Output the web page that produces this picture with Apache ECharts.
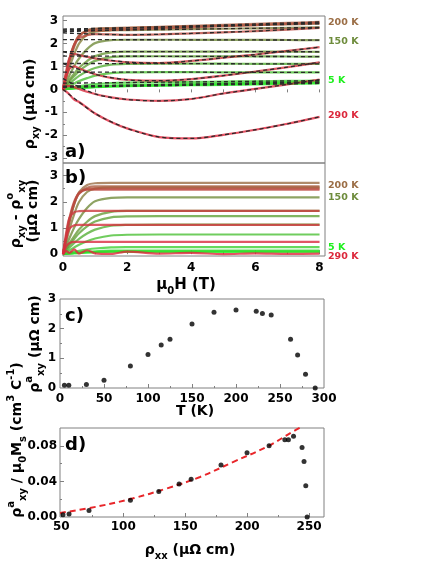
<!DOCTYPE html>
<html>
<head>
<meta charset="utf-8">
<script src="https://cdn.jsdelivr.net/npm/echarts@6/dist/echarts.min.js"></script>
<style>
    html, body { margin: 0; padding: 0; background: #fff; }
    #chart { width: 436px; height: 564px; }
</style>
</head>
<body>
<div id="chart"></div>
<script>
// temperatures (K) of the field sweeps, and the colour of each sweep
var temps = [5, 10, 30, 50, 80, 100, 115, 125, 150, 175, 200, 223, 230, 240, 262, 270, 279, 290];
var tempColors = ['#1ef01e', '#2ae82a', '#36dc30', '#40d034', '#4cc036', '#58b038', '#62a43a', '#6a9a3a', '#728c3c',
    '#86803e', '#9b6e46', '#ab5e42', '#b45240', '#bc4840', '#cc3a3e', '#d4323e', '#da2c3e', '#e0263c'];

// field grid (T) for panels a and b
var fieldH = [0, 0.1, 0.2, 0.35, 0.5, 0.75, 1, 1.5, 2, 3, 4, 5, 6, 7, 8];

// panel a: rho_xy (uOhm cm), one row per temperature
var rhoXY = [
    [0, 0.012, 0.024, 0.042, 0.058, 0.081, 0.10, 0.125, 0.139, 0.16, 0.18, 0.20, 0.22, 0.24, 0.26],
    [0, 0.015, 0.029, 0.049, 0.065, 0.089, 0.108, 0.134, 0.15, 0.175, 0.20, 0.225, 0.25, 0.275, 0.30],
    [0, 0.016, 0.033, 0.057, 0.079, 0.11, 0.136, 0.169, 0.187, 0.212, 0.236, 0.26, 0.284, 0.308, 0.332],
    [0, 0.028, 0.057, 0.10, 0.137, 0.189, 0.23, 0.278, 0.295, 0.312, 0.326, 0.34, 0.354, 0.368, 0.382],
    [0, 0.075, 0.15, 0.26, 0.36, 0.49, 0.60, 0.71, 0.74, 0.75, 0.75, 0.745, 0.745, 0.74, 0.74],
    [0, 0.124, 0.249, 0.43, 0.588, 0.79, 0.935, 1.08, 1.115, 1.125, 1.12, 1.12, 1.115, 1.11, 1.11],
    [0, 0.174, 0.348, 0.58, 0.797, 1.057, 1.245, 1.403, 1.438, 1.445, 1.442, 1.44, 1.437, 1.434, 1.43],
    [0, 0.198, 0.413, 0.693, 0.94, 1.237, 1.45, 1.615, 1.647, 1.648, 1.646, 1.645, 1.644, 1.642, 1.64],
    [0, 0.304, 0.608, 1.02, 1.345, 1.756, 2.016, 2.145, 2.165, 2.165, 2.162, 2.16, 2.157, 2.153, 2.15],
    [0, 0.461, 0.948, 1.537, 1.999, 2.386, 2.518, 2.578, 2.588, 2.607, 2.626, 2.645, 2.664, 2.683, 2.702],
    [0, 0.582, 1.19, 1.851, 2.303, 2.573, 2.646, 2.674, 2.688, 2.717, 2.746, 2.775, 2.804, 2.833, 2.862],
    [0, 0.626, 1.252, 1.932, 2.353, 2.571, 2.634, 2.656, 2.678, 2.722, 2.766, 2.81, 2.854, 2.898, 2.942],
    [0, 0.658, 1.315, 1.975, 2.334, 2.522, 2.559, 2.584, 2.608, 2.657, 2.706, 2.755, 2.804, 2.853, 2.902],
    [0, 0.68, 1.35, 1.95, 2.23, 2.36, 2.41, 2.40, 2.38, 2.40, 2.44, 2.49, 2.54, 2.61, 2.68],
    [0, 0.80, 1.35, 1.55, 1.50, 1.42, 1.35, 1.25, 1.18, 1.15, 1.24, 1.38, 1.52, 1.68, 1.84],
    [0, 0.55, 0.90, 1.00, 0.92, 0.78, 0.66, 0.50, 0.42, 0.38, 0.45, 0.60, 0.78, 0.97, 1.18],
    [0, 0.12, 0.15, 0.10, 0.02, -0.10, -0.20, -0.35, -0.44, -0.50, -0.42, -0.18, 0.02, 0.22, 0.43],
    [0, -0.10, -0.22, -0.45, -0.55, -0.80, -1.05, -1.42, -1.70, -2.08, -2.14, -1.98, -1.76, -1.50, -1.20]
];

// panel a: black dashed fits, on their own field grid
var fitH = [0, 1, 2, 3, 4, 5, 6, 7, 8];
var fitXY = [
    [0.10, 0.12, 0.14, 0.16, 0.18, 0.20, 0.22, 0.24, 0.26],
    [0.10, 0.125, 0.15, 0.175, 0.20, 0.225, 0.25, 0.275, 0.30],
    [0.14, 0.164, 0.188, 0.212, 0.236, 0.26, 0.284, 0.308, 0.332],
    [0.27, 0.284, 0.298, 0.312, 0.326, 0.34, 0.354, 0.368, 0.382],
    [0.75, 0.75, 0.75, 0.75, 0.75, 0.745, 0.745, 0.74, 0.74],
    [1.13, 1.128, 1.125, 1.123, 1.12, 1.118, 1.115, 1.113, 1.11],
    [1.45, 1.448, 1.445, 1.443, 1.44, 1.438, 1.435, 1.433, 1.43],
    [1.65, 1.649, 1.648, 1.646, 1.645, 1.644, 1.643, 1.641, 1.64],
    [2.17, 2.168, 2.165, 2.163, 2.16, 2.158, 2.155, 2.153, 2.15],
    [2.55, 2.569, 2.588, 2.607, 2.626, 2.645, 2.664, 2.683, 2.702],
    [2.63, 2.659, 2.688, 2.717, 2.746, 2.775, 2.804, 2.833, 2.862],
    [2.59, 2.634, 2.678, 2.722, 2.766, 2.81, 2.854, 2.898, 2.942],
    [2.51, 2.559, 2.608, 2.657, 2.706, 2.755, 2.804, 2.853, 2.902],
    [2.46, 2.41, 2.38, 2.40, 2.44, 2.49, 2.54, 2.61, 2.68],
    [1.64, 1.36, 1.19, 1.15, 1.24, 1.38, 1.52, 1.68, 1.84],
    [1.12, 0.66, 0.42, 0.38, 0.45, 0.60, 0.78, 0.97, 1.18],
    [0.47, -0.20, -0.44, -0.50, -0.42, -0.18, 0.02, 0.22, 0.43],
    [0.00, -1.05, -1.70, -2.08, -2.14, -1.98, -1.76, -1.50, -1.20]
];

// panel b: rho_xy - rho0_xy (uOhm cm)
var rhoAH = [
    [0, 0.01, 0.02, 0.035, 0.048, 0.066, 0.08, 0.095, 0.099, 0.1, 0.1, 0.1, 0.1, 0.1, 0.1],
    [0, 0.012, 0.024, 0.04, 0.052, 0.07, 0.083, 0.097, 0.1, 0.1, 0.1, 0.1, 0.1, 0.1, 0.1],
    [0, 0.014, 0.028, 0.049, 0.067, 0.092, 0.112, 0.133, 0.139, 0.14, 0.14, 0.14, 0.14, 0.14, 0.14],
    [0, 0.027, 0.054, 0.095, 0.13, 0.178, 0.216, 0.257, 0.267, 0.27, 0.27, 0.27, 0.27, 0.27, 0.27],
    [0, 0.075, 0.15, 0.26, 0.36, 0.495, 0.6, 0.712, 0.742, 0.75, 0.75, 0.75, 0.75, 0.75, 0.75],
    [0, 0.124, 0.249, 0.43, 0.588, 0.791, 0.938, 1.085, 1.119, 1.13, 1.13, 1.13, 1.13, 1.13, 1.13],
    [0, 0.174, 0.348, 0.58, 0.798, 1.059, 1.247, 1.407, 1.443, 1.45, 1.45, 1.45, 1.45, 1.45, 1.45],
    [0, 0.198, 0.413, 0.693, 0.94, 1.238, 1.452, 1.617, 1.65, 1.65, 1.65, 1.65, 1.65, 1.65, 1.65],
    [0, 0.304, 0.608, 1.02, 1.345, 1.758, 2.018, 2.148, 2.17, 2.17, 2.17, 2.17, 2.17, 2.17, 2.17],
    [0, 0.459, 0.944, 1.53, 1.989, 2.372, 2.499, 2.55, 2.55, 2.55, 2.55, 2.55, 2.55, 2.55, 2.55],
    [0, 0.598, 1.224, 1.904, 2.366, 2.638, 2.706, 2.72, 2.72, 2.72, 2.72, 2.72, 2.72, 2.72, 2.72],
    [0, 0.622, 1.243, 1.917, 2.331, 2.538, 2.59, 2.59, 2.59, 2.59, 2.59, 2.59, 2.59, 2.59, 2.59],
    [0, 0.653, 1.305, 1.958, 2.309, 2.485, 2.51, 2.51, 2.51, 2.51, 2.51, 2.51, 2.51, 2.51, 2.51],
    [0, 0.689, 1.378, 2.017, 2.337, 2.46, 2.46, 2.46, 2.46, 2.46, 2.46, 2.46, 2.46, 2.46, 2.46],
    [0, 0.83, 1.38, 1.60, 1.64, 1.65, 1.65, 1.65, 1.65, 1.65, 1.65, 1.65, 1.65, 1.65, 1.65],
    [0, 0.60, 0.97, 1.10, 1.12, 1.12, 1.12, 1.12, 1.12, 1.12, 1.12, 1.12, 1.12, 1.12, 1.12],
    [0, 0.30, 0.42, 0.47, 0.47, 0.47, 0.47, 0.47, 0.47, 0.47, 0.47, 0.47, 0.47, 0.47, 0.47],
    [0, 0.12, 0.05, 0.18, 0.02, 0.15, 0.03, 0.01, 0.10, 0.02, 0.05, 0.00, 0.03, 0.01, 0.02]
];

// panel c: anomalous Hall resistivity vs T
var cTemp = [5, 10, 30, 50, 80, 100, 115, 125, 150, 175, 200, 223, 230, 240, 262, 270, 279, 290];
var cRhoA = [0.09, 0.09, 0.12, 0.26, 0.74, 1.13, 1.45, 1.64, 2.16, 2.55, 2.63, 2.59, 2.51, 2.46, 1.64, 1.11, 0.46, 0.0];

// panel d: rho_a / mu0 Ms vs rho_xx
var dRhoXX = [51.4, 56.3, 72.4, 105.8, 128.7, 145.1, 154.8, 178.9, 199.9, 217.7, 230.4, 233.3, 237.4, 244.3, 245.9, 247.3, 248.4];
var dRatio = [0.0026, 0.0034, 0.0072, 0.0189, 0.0287, 0.037, 0.0423, 0.0585, 0.0721, 0.080, 0.0868, 0.0868, 0.0906, 0.0781, 0.0623, 0.0351, 0.0];
var dFitX = [49, 80, 108, 135, 162, 189, 216, 237, 243];
var dFitY = [0.0045, 0.012, 0.021, 0.032, 0.045, 0.062, 0.079, 0.096, 0.1005];

var F = 'DejaVu Sans';
var frame = '#808080';

function pairs(xs, ys) {
    return xs.map(function (x, i) { return [x, ys[i]]; });
}

function labelStyle(margin) {
    return {fontFamily: F, fontWeight: 'bold', fontSize: 12, color: '#000', margin: margin};
}

// main axis: labels + major ticks at given values
function mainAxis(grid, pos, min, max, labels, ticks, len, inside, margin, fmt) {
    var lab = labelStyle(margin);
    if (labels) { lab.customValues = labels; } else { lab.show = false; }
    if (fmt) { lab.formatter = fmt; }
    return {
        type: 'value', gridIndex: grid, position: pos, min: min, max: max,
        axisLine: {show: false}, splitLine: {show: false},
        axisTick: {show: true, inside: inside, length: len, customValues: ticks, lineStyle: {color: frame}},
        axisLabel: lab
    };
}

// extra axis carrying the short minor ticks
function minorAxis(grid, pos, min, max, ticks) {
    return {
        type: 'value', gridIndex: grid, position: pos, min: min, max: max,
        axisLine: {show: false}, splitLine: {show: false}, axisLabel: {show: false},
        axisTick: {show: true, inside: true, length: 2, customValues: ticks, lineStyle: {color: frame}}
    };
}

var xAxes = [
    mainAxis(0, 'bottom', 0, 8.17, null, [1, 2, 3, 4, 5, 6, 7, 8], 3, false, 0),
    mainAxis(1, 'bottom', 0, 8.17, [0, 2, 4, 6, 8], [2, 4, 6, 8], 4, true, 6),
    mainAxis(2, 'bottom', 0, 300, [0, 50, 100, 150, 200, 250, 300], [50, 100, 150, 200, 250], 4, true, 5),
    mainAxis(3, 'bottom', 49, 262, [50, 100, 150, 200, 250], [50, 100, 150, 200, 250], 4, true, 4),
    minorAxis(1, 'bottom', 0, 8.17, [1, 3, 5, 7]),
    minorAxis(2, 'bottom', 0, 300, [25, 75, 125, 175, 225, 275]),
    minorAxis(3, 'bottom', 49, 262, [75, 125, 175, 225])
];
var yAxes = [
    mainAxis(0, 'left', -3.21, 3.2, [-3, -2, -1, 0, 1, 2, 3], [-3, -2, -1, 0, 1, 2, 3], 4, true, 5),
    mainAxis(1, 'left', -0.07, 3.48, [0, 1, 2, 3], [0, 1, 2, 3], 4, true, 5),
    mainAxis(2, 'left', 0, 3, [0, 1, 2, 3], [1, 2], 4, true, 4),
    mainAxis(3, 'left', 0, 0.1, [0, 0.04, 0.08], [0.04, 0.08], 4, true, 3, function (v) { return v.toFixed(2); }),
    minorAxis(0, 'left', -3.21, 3.2, [-2.5, -1.5, -0.5, 0.5, 1.5, 2.5]),
    minorAxis(1, 'left', -0.07, 3.48, [0.5, 1.5, 2.5]),
    minorAxis(2, 'left', 0, 3, [0.5, 1.5, 2.5]),
    minorAxis(3, 'left', 0, 0.1, [0.02, 0.06])
];

var series = [];
temps.forEach(function (t, i) {
    series.push({
        type: 'line', xAxisIndex: 0, yAxisIndex: 0, data: pairs(fieldH, rhoXY[i]),
        showSymbol: false, smooth: 0.3, silent: true,
        lineStyle: {color: tempColors[i], width: 2.2, opacity: 0.8}
    });
});
temps.forEach(function (t, i) {
    series.push({
        type: 'line', xAxisIndex: 0, yAxisIndex: 0, data: pairs(fitH, fitXY[i]),
        showSymbol: false, smooth: 0.3, silent: true, z: 3,
        lineStyle: {color: '#2a2a2a', width: 1.3, type: [4, 3]}
    });
});
temps.forEach(function (t, i) {
    series.push({
        type: 'line', xAxisIndex: 1, yAxisIndex: 1, data: pairs(fieldH, rhoAH[i]),
        showSymbol: false, smooth: 0.3, silent: true,
        lineStyle: {color: tempColors[i], width: 2.2, opacity: 0.8}
    });
});
series.push({
    type: 'scatter', xAxisIndex: 2, yAxisIndex: 2, data: pairs(cTemp, cRhoA),
    symbolSize: 5, itemStyle: {color: '#000'}, silent: true
});
series.push({
    type: 'line', xAxisIndex: 3, yAxisIndex: 3, data: pairs(dFitX, dFitY),
    showSymbol: false, smooth: 0.4, silent: true,
    lineStyle: {color: '#e8262a', width: 2, type: [6, 4]}
});
series.push({
    type: 'scatter', xAxisIndex: 3, yAxisIndex: 3, data: pairs(dRhoXX, dRatio),
    symbolSize: 5, itemStyle: {color: '#000'}, silent: true, z: 4
});

function richStyles(size) {
    var s = Math.round(size * 0.68);
    return {
        sub: {fontSize: s, fontWeight: 'bold', fontFamily: F, fill: '#000', verticalAlign: 'bottom', lineHeight: s + 2},
        sup: {fontSize: s, fontWeight: 'bold', fontFamily: F, fill: '#000', verticalAlign: 'top', lineHeight: s + 2}
    };
}

function txt(text, x, y, size, rot, align, color) {
    return {
        type: 'text', x: x, y: y, rotation: rot || 0, silent: true, z: 50,
        style: {
            text: text, fontSize: size, fontWeight: 'bold', fontFamily: F, fill: color || '#000',
            align: align || 'center', verticalAlign: 'middle', lineHeight: size + 8, rich: richStyles(size)
        }
    };
}

var R = Math.PI / 2;
var graphics = [
    txt('ρ{sub|xy} (μΩ cm)', 30, 104, 14, R),
    txt('ρ{sub|xy} - ρ{sup|o}{sub|xy}', 16, 214, 14, R),
    txt('(μΩ cm)', 33, 211, 14, R),
    txt('ρ{sup|a}{sub|xy} (μΩ cm)', 35, 344, 14, R),
    txt('ρ{sup|a}{sub|xy} / μ{sub|0}M{sub|s} (cm{sup|3} C{sup|-1})', 17, 440, 14, R),
    txt('μ{sub|0}H (T)', 186, 285, 15),
    txt('T (K)', 195, 411, 14),
    txt('ρ{sub|xx} (μΩ cm)', 190, 550, 14),
    txt('a)', 65, 152, 18, 0, 'left'),
    txt('b)', 65, 178, 18, 0, 'left'),
    txt('c)', 65, 316, 18, 0, 'left'),
    txt('d)', 65, 445, 18, 0, 'left'),
    txt('200 K', 328, 23, 9.5, 0, 'left', '#9b6e46'),
    txt('150 K', 328, 42, 9.5, 0, 'left', '#6e8c3c'),
    txt('5 K', 328, 81, 9.5, 0, 'left', '#1ef01e'),
    txt('290 K', 328, 116, 9.5, 0, 'left', '#dc283c'),
    txt('200 K', 328, 186, 9.5, 0, 'left', '#9b6e46'),
    txt('150 K', 328, 198, 9.5, 0, 'left', '#6e8c3c'),
    txt('5 K', 328, 248, 9.5, 0, 'left', '#1ef01e'),
    txt('290 K', 328, 257, 9.5, 0, 'left', '#dc283c')
];

function box(left, top, width, height) {
    return {left: left, top: top, width: width, height: height, show: true,
        borderColor: frame, borderWidth: 1, backgroundColor: 'transparent',
        containLabel: false, outerBoundsMode: 'none'};
}

var chart = echarts.init(document.getElementById('chart'));
chart.setOption({
    animation: false,
    backgroundColor: '#fff',
    grid: [box(63, 16, 262, 147), box(63, 163, 262, 93), box(60, 299, 264, 89), box(60, 428, 264, 89)],
    xAxis: xAxes,
    yAxis: yAxes,
    series: series,
    graphic: graphics
});
</script>
</body>
</html>
